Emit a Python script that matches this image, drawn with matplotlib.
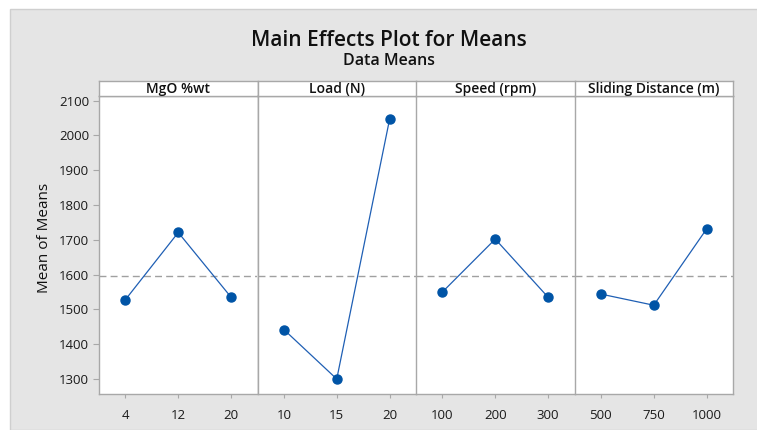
import matplotlib
matplotlib.use("Agg")
import matplotlib.pyplot as plt
from matplotlib.patches import Rectangle

plt.rcParams['font.family'] = ['Open Sans', 'DejaVu Sans']

# factor names and levels
factors = ["MgO %wt", "Load (N)", "Speed (rpm)", "Sliding Distance (m)"]
levels = [["4", "12", "20"],
          ["10", "15", "20"],
          ["100", "200", "300"],
          ["500", "750", "1000"]]
# mean of means for each level
mgo_means = [1528, 1721, 1535]
load_means = [1442, 1300, 2046]
speed_means = [1550, 1702, 1535]
dist_means = [1544, 1512, 1731]
grand_mean = 1595

all_means = [mgo_means, load_means, speed_means, dist_means]

W, H = 757, 430
fig = plt.figure(figsize=(W / 100, H / 100), dpi=100)
fig.patch.set_facecolor("white")

# gray panel behind everything
bg = Rectangle((10 / W, 0), 1, (H - 9) / H, transform=fig.transFigure,
               facecolor="#e5e5e5", edgecolor="#cfcfcf", lw=1, zorder=-10)
fig.patches.append(bg)

fig.text(389 / W, 1 - 40 / H, "Main Effects Plot for Means", ha="center", va="center",
         fontsize=15, fontweight="semibold", color="#111111")
fig.text(389 / W, 1 - 61 / H, "Data Means", ha="center", va="center",
         fontsize=11.5, fontweight="semibold", color="#111111")

left, right, top, bottom = 99, 733, 96, 394
pw = (right - left) / 4
strip_h = 15
spine_col = "#a8a8a8"
tick_font = dict(fontsize=9.5, fontweight="medium", color="#1a1a1a")

axes = []
for i in range(4):
    ax = fig.add_axes([(left + i * pw) / W, (H - bottom) / H, pw / W, (bottom - top) / H])
    x = [1, 2, 3]
    ax.axhline(grand_mean, color="#a0a0a0", lw=1, ls=(0, (5, 3)), zorder=1)
    ax.plot(x, all_means[i], color="#1f5fb4", lw=0.9, zorder=2)
    ax.plot(x, all_means[i], "o", color="#0054a6", ms=6.5, zorder=3)
    ax.set_xlim(0.5, 3.5)
    ax.set_ylim(1257, 2113)
    ax.set_xticks(x)
    ax.set_xticklabels(levels[i], **tick_font)
    ax.tick_params(axis="x", length=3, color=spine_col, pad=8)
    for s in ax.spines.values():
        s.set_color(spine_col)
        s.set_linewidth(1)
    if i < 3:
        ax.spines["right"].set_visible(False)
    if i == 0:
        yt = [1300, 1400, 1500, 1600, 1700, 1800, 1900, 2000, 2100]
        ax.set_yticks(yt)
        ax.set_yticklabels([str(v) for v in yt], **tick_font)
        ax.tick_params(axis="y", length=4, color=spine_col, pad=3)
    else:
        ax.tick_params(axis="y", left=False, labelleft=False)
    ax.set_facecolor("white")

    # strip header
    sax = fig.add_axes([(left + i * pw) / W, (H - top) / H, pw / W, strip_h / H])
    sax.set_xticks([])
    sax.set_yticks([])
    for s in sax.spines.values():
        s.set_color(spine_col)
        s.set_linewidth(1)
    if i < 3:
        sax.spines["right"].set_visible(False)
    sax.text(0.5, 0.45, factors[i], ha="center", va="center", fontsize=10,
             fontweight="semibold", color="#111111", transform=sax.transAxes)
    axes.append(ax)

fig.text(45 / W, 1 - 238 / H, "Mean of Means", rotation=90, ha="center", va="center",
         fontsize=11, color="#111111")

fig.savefig("out.png", dpi=100)
